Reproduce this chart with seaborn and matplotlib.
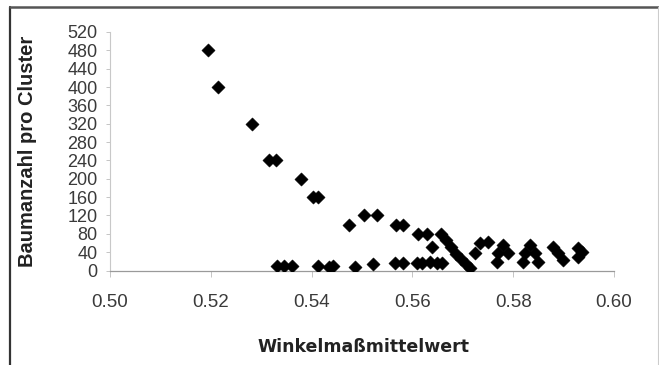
import matplotlib
matplotlib.use("Agg")
import matplotlib.pyplot as plt
import seaborn as sns
import pandas as pd
from matplotlib.lines import Line2D

# Data
winkel = [
    # upper branch
    0.5195, 0.5215, 0.5282, 0.5316, 0.5330, 0.5378, 0.5402, 0.5412,
    0.5475, 0.5503, 0.5529, 0.5567, 0.5581, 0.5612, 0.5628,
    0.5656, 0.5666, 0.5676, 0.5686, 0.5696, 0.5706, 0.5714,
    0.5724, 0.5734, 0.5750,
    # lower row
    0.5332, 0.5346, 0.5362, 0.5412, 0.5435, 0.5443, 0.5487, 0.5521,
    0.5565, 0.5581, 0.5610, 0.5620, 0.5634, 0.5648, 0.5658, 0.5638,
    # right cluster
    0.5769, 0.5779, 0.5789, 0.5767, 0.5823, 0.5833, 0.5843, 0.5849,
    0.5819, 0.5879, 0.5889, 0.5899, 0.5928, 0.5928, 0.5936,
]
baumzahl = [
    480, 400, 320, 240, 240, 200, 160, 160,
    100, 120, 120, 100, 100, 80, 80,
    80, 66, 51, 36, 25, 14, 6,
    38, 60, 62,
    10, 10, 10, 10, 8, 10, 8, 14,
    16, 16, 16, 16, 18, 16, 16, 51,
    38, 56, 38, 18, 38, 56, 38, 18,
    18, 51, 38, 23, 49, 30, 40,
]
x_ticks = [0.50, 0.52, 0.54, 0.56, 0.58, 0.60]
y_ticks = list(range(0, 521, 40))

df = pd.DataFrame({"Winkelmaßmittelwert": winkel, "Baumanzahl pro Cluster": baumzahl})

sns.set_theme(style="white")
plt.rcParams["font.family"] = ["Liberation Sans", "DejaVu Sans"]

fig = plt.figure(figsize=(6.59, 3.65), dpi=100)
ax = fig.add_axes([110 / 659, 94.5 / 365, (614 - 110) / 659, (270.5 - 32) / 365])

sns.scatterplot(data=df, x="Winkelmaßmittelwert", y="Baumanzahl pro Cluster",
                marker="D", s=46, color="black", edgecolor="black", linewidth=0.3,
                ax=ax, legend=False, zorder=3)

ax.set_xlim(0.50, 0.60)
ax.set_ylim(0, 520)
ax.set_xticks(x_ticks)
ax.set_xticklabels([f"{v:.2f}" for v in x_ticks])
ax.set_yticks(y_ticks)
ax.set_yticklabels([str(v) for v in y_ticks])

for side in ["top", "right"]:
    ax.spines[side].set_visible(False)
ax.spines["left"].set_color("#c8c8c8")
ax.spines["left"].set_linewidth(0.8)
ax.spines["bottom"].set_color("#9a9a9a")
ax.spines["bottom"].set_linewidth(0.9)

ax.tick_params(axis="y", which="both", left=True, length=3, width=0.6, color="#bbbbbb",
               labelsize=13, labelcolor="#3a3a3a", pad=6)
ax.tick_params(axis="x", which="both", bottom=True, length=4, width=0.6, color="#bbbbbb",
               labelsize=13.5, labelcolor="#3a3a3a", pad=13)

ax.set_xlabel("Winkelmaßmittelwert", fontsize=12.5, fontweight="bold", color="#222222",
              family=["DejaVu Sans"])
ax.set_ylabel("Baumanzahl pro Cluster", fontsize=14.5, fontweight="bold", color="#222222",
              family=["Liberation Sans", "DejaVu Sans"])
ax.xaxis.set_label_coords((363 - 110) / (614 - 110), -(338 - 270.5) / (270.5 - 32))
ax.yaxis.set_label_coords(-(110 - 37) / (614 - 110), 0.5)

# outer frame
W, H = 659, 365
fig.add_artist(Line2D([10 / W, 10 / W], [0, 1 - 7 / H], transform=fig.transFigure,
                      color="#333333", linewidth=1.6))
fig.add_artist(Line2D([10 / W, 658 / W], [1 - 7 / H, 1 - 7 / H], transform=fig.transFigure,
                      color="#555555", linewidth=1.8))
fig.add_artist(Line2D([658 / W, 658 / W], [0, 1 - 7 / H], transform=fig.transFigure,
                      color="#cccccc", linewidth=0.8))

fig.savefig("out.png", dpi=100)
